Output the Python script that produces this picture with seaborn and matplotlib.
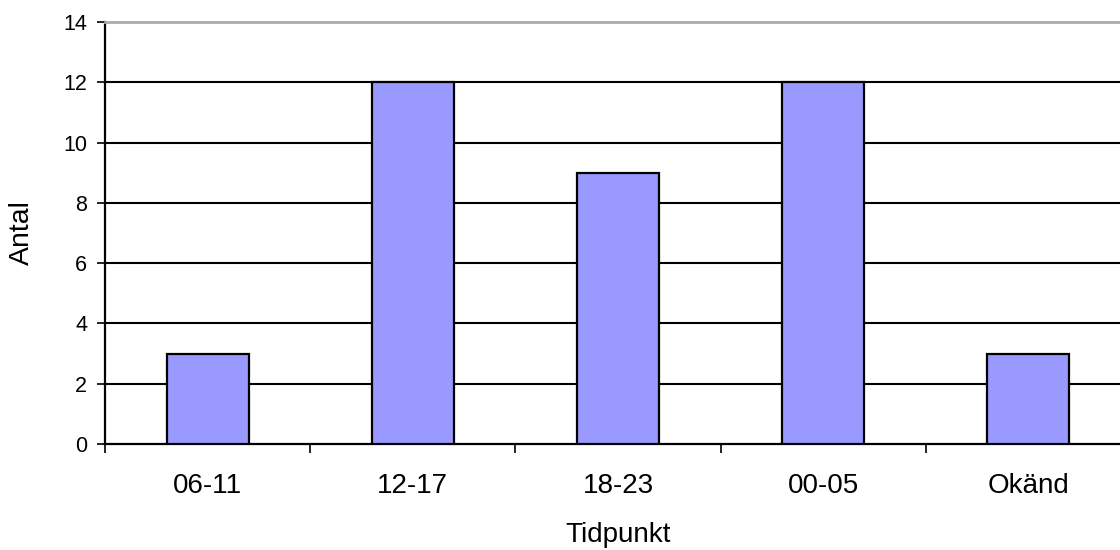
import matplotlib
matplotlib.use("Agg")
import matplotlib.pyplot as plt
import seaborn as sns
import pandas as pd

# Data
categories = ["06-11", "12-17", "18-23", "00-05", "Okänd"]
antal = [3, 12, 9, 12, 3]
y_ticks = [0, 2, 4, 6, 8, 10, 12, 14]

sns.set_theme(style="white")
plt.rcParams["font.family"] = ["Liberation Sans", "DejaVu Sans"]

df = pd.DataFrame({"Tidpunkt": categories, "Antal": antal})

W, H = 1120, 550
fig = plt.figure(figsize=(W / 100, H / 100), dpi=100)
ax = fig.add_axes([105 / W, 106 / H, 1026 / W, 422 / H])

sns.barplot(data=df, x="Tidpunkt", y="Antal", order=categories,
            color="#9999FF", saturation=1, width=0.4,
            edgecolor="black", linewidth=1.6, ax=ax, zorder=3)

# Horizontal grid lines (the top one is the grey frame edge)
for v in y_ticks[1:-1]:
    ax.axhline(v, color="black", lw=1.5, zorder=1)

ax.set_xlim(-0.5, len(categories) - 0.5)
ax.set_ylim(y_ticks[0], y_ticks[-1])
ax.set_yticks(y_ticks)

# Tick marks between categories, labels centred under bars
ax.set_xticks([i - 0.5 for i in range(len(categories) + 1)])
ax.set_xticklabels([""] * (len(categories) + 1))
ax.set_xticks(range(len(categories)), categories, minor=True)
ax.tick_params(axis="x", which="major", bottom=True, length=6.5, width=1.2,
               color="black", direction="out")
ax.tick_params(axis="x", which="minor", bottom=True, length=0, labelsize=20,
               pad=21, labelcolor="black")
ax.tick_params(axis="y", left=True, length=5.8, width=1.2, color="black",
               direction="out", labelsize=15.5, pad=7, labelcolor="black")

for side in ("left", "bottom"):
    ax.spines[side].set_color("black")
    ax.spines[side].set_linewidth(1.6)
ax.spines["top"].set_color("#aaaaaa")
ax.spines["top"].set_linewidth(2)
ax.spines["right"].set_visible(False)

ax.set_xlabel("Tidpunkt", fontsize=20, color="black", va="center")
ax.xaxis.set_label_coords(0.5, (444 - 535) / 422)
ax.set_ylabel("Antal", fontsize=20.5, color="black", va="center", ha="center")
ax.yaxis.set_label_coords((22 - 105) / 1026, 0.5)

fig.savefig("out.png", dpi=100, facecolor="white")
